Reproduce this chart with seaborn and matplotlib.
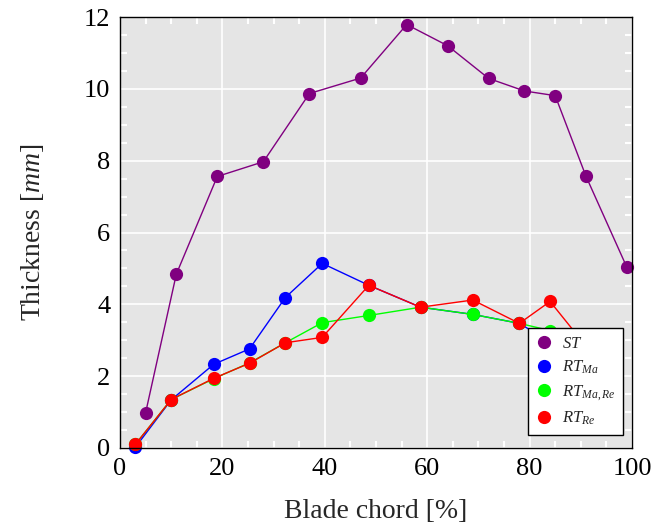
import matplotlib
matplotlib.use("Agg")
import matplotlib.pyplot as plt
import seaborn as sns
import pandas as pd
from matplotlib.lines import Line2D
from matplotlib.ticker import MultipleLocator

# ---- data ----
st_x = [5, 11, 19, 28, 37, 47, 56, 64, 72, 79, 85, 91, 99]
st_y = [0.98, 4.84, 7.56, 7.97, 9.87, 10.3, 11.79, 11.2, 10.29, 9.94, 9.81, 7.57, 5.03]

rtma_x = [3, 10, 18.3, 25.3, 32.3, 39.5, 48.6, 58.7, 68.9, 78, 84]
rtma_y = [0.02, 1.34, 2.33, 2.76, 4.19, 5.14, 4.53, 3.92, 3.72, 3.47, 2.95]

rtmare_x = [3, 10, 18.3, 25.3, 32.3, 39.5, 48.6, 58.7, 68.9, 78, 84, 91]
rtmare_y = [0.1, 1.35, 1.93, 2.37, 2.93, 3.49, 3.69, 3.92, 3.72, 3.47, 3.27, 3.0]

rtre_x = [3, 10, 18.3, 25.3, 32.3, 39.5, 48.6, 58.7, 68.9, 78, 84, 91]
rtre_y = [0.1, 1.35, 1.94, 2.36, 2.93, 3.08, 4.53, 3.92, 4.12, 3.47, 4.08, 2.84]

labels = [r"$ST$", r"$RT_{Ma}$", r"$RT_{Ma,Re}$", r"$RT_{Re}$"]
colors = ["#800080", "#0000ff", "#00ff00", "#ff0000"]

x_ticks = [0, 20, 40, 60, 80, 100]
y_ticks = [0, 2, 4, 6, 8, 10, 12]

sns.set_theme(style="darkgrid")
plt.rcParams["font.family"] = ["Liberation Serif", "DejaVu Serif"]
plt.rcParams["mathtext.fontset"] = "custom"
plt.rcParams["mathtext.rm"] = "Liberation Serif"
plt.rcParams["mathtext.it"] = "Liberation Serif:italic"

fig = plt.figure(figsize=(6.6, 5.24), dpi=100)
ax = fig.add_axes([120 / 660, 1 - 448 / 524, 512 / 660, 431 / 524])
ax.set_facecolor("#e5e5e5")

series = [(st_x, st_y), (rtma_x, rtma_y), (rtmare_x, rtmare_y), (rtre_x, rtre_y)]
for (xs, ys), lab, col in zip(series, labels, colors):
    df = pd.DataFrame({"x": xs, "y": ys})
    sns.lineplot(data=df, x="x", y="y", sort=False, color=col, marker="o",
                 markersize=9.5, markeredgewidth=0, linewidth=1.0, ax=ax,
                 legend=False, clip_on=False)

ax.set_xlim(0, 100)
ax.set_ylim(0, 12)
ax.set_xticks(x_ticks)
ax.set_yticks(y_ticks)
ax.xaxis.set_minor_locator(MultipleLocator(5))
ax.yaxis.set_minor_locator(MultipleLocator(0.5))
ax.grid(True, which="major", color="white", linewidth=1.2)
ax.grid(False, which="minor")
ax.tick_params(axis="both", which="major", labelsize=19, direction="in",
               length=0, pad=7, colors="white", labelcolor="black")
ax.tick_params(axis="both", which="minor", direction="in", length=5,
               width=1.5, color="white", top=True, right=True,
               bottom=True, left=True)
for s in ax.spines.values():
    s.set_visible(True)
    s.set_color("black")
    s.set_linewidth(1.0)

ax.set_xlabel("Blade chord [%]", fontsize=20, labelpad=14)
ax.set_ylabel("Thickness [$mm$]", fontsize=20, labelpad=27)

handles = [Line2D([], [], linestyle="none", marker="o", markersize=9.5,
                  markeredgewidth=0, color=c) for c in colors]
leg = ax.legend(handles, labels, loc="upper right",
                bbox_to_anchor=(623 / 660, 1 - 328 / 524),
                bbox_transform=fig.transFigure, fontsize=12,
                frameon=True, fancybox=False, framealpha=1,
                edgecolor="black", facecolor="white",
                borderpad=0.45, labelspacing=0.42, handletextpad=0.6,
                handlelength=1.0, borderaxespad=0)
leg.get_frame().set_linewidth(1.0)

fig.savefig("out.png", dpi=100)
